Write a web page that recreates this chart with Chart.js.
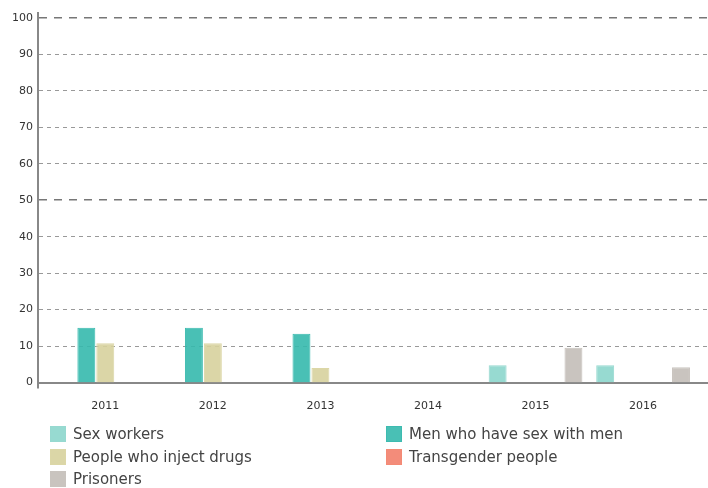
<!DOCTYPE html>
<html>
<head>
<meta charset="utf-8">
<script src="https://cdn.jsdelivr.net/npm/chart.js@4/dist/chart.umd.min.js"></script>
<style>
  html, body { margin: 0; padding: 0; background: #fff; }
  #wrap { position: relative; width: 708px; height: 488px; overflow: hidden; }
  #c { position: absolute; left: 0; top: 0; }
  #legend { position: absolute; left: 0; top: 0; width: 708px; height: 488px; font-family: "DejaVu Sans", sans-serif; font-size: 15px; color: #444; }
  .item { position: absolute; height: 18px; line-height: 18px; white-space: nowrap; }
  .sw { position: absolute; left: 0; top: 1px; width: 16px; height: 16px; box-sizing: border-box; border: 1px solid; }
  .lbl { position: absolute; left: 23px; top: 0; }
</style>
</head>
<body>
<div id="wrap">
  <canvas id="c" width="708" height="424"></canvas>
  <div id="legend"></div>
</div>
<script>
const categories = ["2011", "2012", "2013", "2014", "2015", "2016"];
const seriesNames = ["Sex workers", "Men who have sex with men", "People who inject drugs", "Transgender people", "Prisoners"];
const sexWorkers = [null, null, null, null, 4.7, 4.7];
const msm = [15, 15, 13.4, null, null, null];
const pwid = [10.8, 10.8, 4.0, null, null, null];
const transgender = [null, null, null, null, null, null];
const prisoners = [null, null, null, null, 9.5, 4.2];
const yTicks = [0, 10, 20, 30, 40, 50, 60, 70, 80, 90, 100];

const fills = ["rgba(140,214,204,0.9)", "rgba(53,185,173,0.9)", "rgba(215,210,157,0.9)", "rgba(242,128,108,0.9)", "rgba(195,190,184,0.9)"];
const borders = ["#97d9d0", "#3dbbb0", "#dcd7a7", "#f48a75", "#c9c4bf"];
const allSeries = [sexWorkers, msm, pwid, transgender, prisoners];

const datasets = allSeries.map((vals, i) => ({
  label: seriesNames[i],
  data: vals.map((v, k) => ({ x: k, y: v })),
  backgroundColor: fills[i],
  borderColor: borders[i],
  borderWidth: 1,
  categoryPercentage: 0.881,
  barPercentage: 0.947
}));

const isMajor = (ctx) => ctx.tick && (ctx.tick.value === 50 || ctx.tick.value === 100);

const axisExtend = {
  id: 'axisExtend',
  afterDraw(chart) {
    const { ctx, chartArea } = chart;
    ctx.save();
    ctx.strokeStyle = '#888';
    ctx.lineWidth = 2;
    ctx.beginPath();
    ctx.moveTo(chartArea.left, chartArea.top - 6);
    ctx.lineTo(chartArea.left, chartArea.bottom + 6);
    ctx.stroke();
    ctx.restore();
  }
};

new Chart(document.getElementById('c'), {
  type: 'bar',
  data: { datasets },
  plugins: [axisExtend],
  options: {
    responsive: false,
    animation: false,
    layout: { padding: { top: 18, right: 0, left: 0, bottom: 0 } },
    plugins: { legend: { display: false }, tooltip: { enabled: false } },
    scales: {
      x: {
        type: 'linear',
        min: -0.6257,
        max: 5.6034,
        offset: false,
        grid: { display: false, drawTicks: false },
        border: { display: true, color: '#888', width: 2 },
        afterBuildTicks: (s) => { s.ticks = categories.map((c, i) => ({ value: i })); },
        afterFit: (s) => { s.height = 424 - 382.5; },
        ticks: {
          includeBounds: false,
          autoSkip: false,
          maxRotation: 0,
          padding: 17,
          color: '#333',
          font: { family: 'DejaVu Sans', size: 11 },
          callback: (v) => categories[v]
        }
      },
      y: {
        min: 0,
        max: 100,
        afterBuildTicks: (s) => { s.ticks = yTicks.map(v => ({ value: v })); },
        afterFit: (s) => { s.width = 38; },
        border: {
          display: true, color: '#888', width: 2,
          dash: (ctx) => isMajor(ctx) ? [8, 7] : [4, 4]
        },
        grid: {
          drawTicks: false,
          color: (ctx) => isMajor(ctx) ? '#777' : '#999',
          lineWidth: (ctx) => (ctx.tick && ctx.tick.value === 0) ? 0 : (isMajor(ctx) ? 1.6 : 1)
        },
        ticks: {
          padding: 5,
          color: '#333',
          font: { family: 'DejaVu Sans', size: 11 }
        }
      }
    }
  }
});

// HTML legend built from the series names and colours
const legendPos = [
  { left: 50, top: 425 }, { left: 386, top: 425 },
  { left: 50, top: 448 }, { left: 386, top: 448 },
  { left: 50, top: 470 }
];
const legend = document.getElementById('legend');
seriesNames.forEach((name, i) => {
  const it = document.createElement('div');
  it.className = 'item';
  it.style.left = legendPos[i].left + 'px';
  it.style.top = legendPos[i].top + 'px';
  const sw = document.createElement('span');
  sw.className = 'sw';
  sw.style.background = fills[i];
  sw.style.borderColor = borders[i];
  const lb = document.createElement('span');
  lb.className = 'lbl';
  lb.textContent = name;
  it.appendChild(sw);
  it.appendChild(lb);
  legend.appendChild(it);
});
</script>
</body>
</html>
